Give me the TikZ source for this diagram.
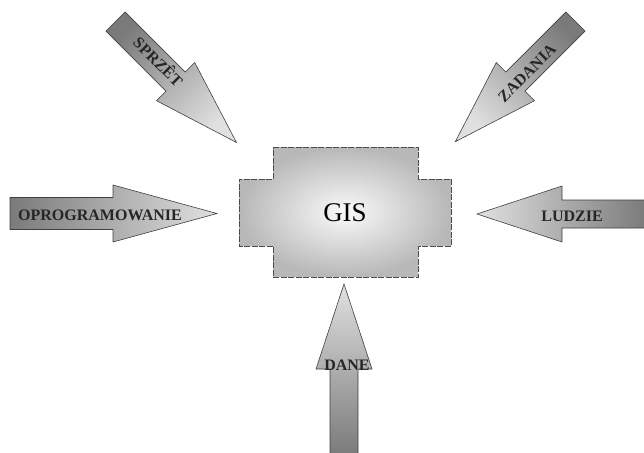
\documentclass[tikz,border=0pt]{standalone}
\usepackage{fontspec}
\setmainfont{Liberation Serif}
\begin{document}
\begin{tikzpicture}[x=1pt,y=1pt,
  block arrow/.style={draw=black!75,line width=0.6pt,top color=black!12,bottom color=black!52},
  arrow label/.style={font=\fontsize{16}{16}\selectfont\bfseries,text=black!85,inner sep=0pt},
  gis box/.style={draw=black!70,line width=0.8pt,dash pattern=on 6pt off 1.5pt,
    inner color=black!2,outer color=black!28}]

  \useasboundingbox (0,0) rectangle (644,-452);

  % GIS
  \path[gis box] (273,-147) -- (418,-147) -- (418,-179) -- (451,-179) -- (451,-246)
    -- (418,-246) -- (418,-277) -- (273,-277) -- (273,-246) -- (239,-246)
    -- (239,-179) -- (273,-179) -- cycle;
  \node[font=\fontsize{27}{27}\selectfont] (gis) at (345,-213) {GIS};

  % OPROGRAMOWANIE
  \begin{scope}[shift={(10,-213.5)}]
    \path[block arrow,shading angle=-90] (0,16) -- (103,16) -- (103,28.5) -- (207,0)
      -- (103,-28.5) -- (103,-16) -- (0,-16) -- cycle;
  \end{scope}
  \node[arrow label] (oprogramowanie) at (100,-215) {OPROGRAMOWANIE};

  % LUDZIE
  \begin{scope}[shift={(646,-214)},rotate=180]
    \path[block arrow,shading angle=90] (0,14) -- (84,14) -- (84,28) -- (169,0)
      -- (84,-28) -- (84,-14) -- (0,-14) -- cycle;
  \end{scope}
  \node[arrow label] (ludzie) at (572,-216) {LUDZIE};

  % DANE
  \begin{scope}[shift={(344,-455)},rotate=90]
    \path[block arrow,shading angle=0] (0,14) -- (86,14) -- (86,28) -- (171,0)
      -- (86,-28) -- (86,-14) -- (0,-14) -- cycle;
  \end{scope}
  \node[arrow label] (dane) at (347,-365) {DANE};

  % SPRZET
  \begin{scope}[shift={(115.5,-21.5)},rotate=-45]
    \path[block arrow,shading angle=-135] (0,13.5) -- (85,13.5) -- (85,27) -- (171,0)
      -- (85,-27) -- (85,-13.5) -- (0,-13.5) -- cycle;
  \end{scope}
  \node[arrow label,rotate=-45] (sprzet) at (159,-61) {SPRZÊT};

  % ZADANIA
  \begin{scope}[shift={(575.5,-21.5)},rotate=-135]
    \path[block arrow,shading angle=135] (0,13.5) -- (85,13.5) -- (85,27) -- (170,0)
      -- (85,-27) -- (85,-13.5) -- (0,-13.5) -- cycle;
  \end{scope}
  \node[arrow label,rotate=45] (zadania) at (527,-73) {ZADANIA};
\end{tikzpicture}
\end{document}
